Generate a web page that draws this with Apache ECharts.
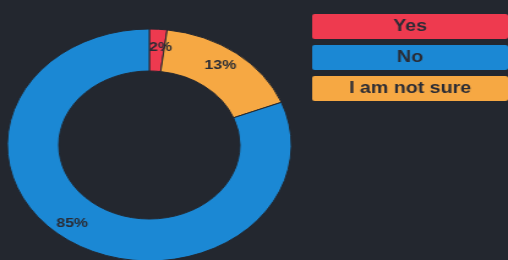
<!DOCTYPE html>
<html>
<head>
<meta charset="utf-8">
<script src="https://cdn.jsdelivr.net/npm/echarts@6/dist/echarts.min.js"></script>
<style>
    html, body { margin: 0; padding: 0; background: #23272f; overflow: hidden; }
    /* the picture is stretched sideways, so the chart is drawn narrow and scaled */
    #chart { width: 415px; height: 260px; transform: scaleX(1.224); transform-origin: 0 0; }
</style>
</head>
<body>
<div id="chart"></div>
<script>
// 数据
var answers = ['Yes', 'I am not sure', 'No'];
// slice shares as measured from the angles in the picture
var sliceShares = [2, 17, 81];
// the percentages printed on the slices
var percentLabels = ['2%', '13%', '85%'];
var legendOrder = ['Yes', 'No', 'I am not sure'];

var colors = ['#ee3a4f', '#f6a843', '#1b88d4'];
var richKeys = { 'Yes': 'y', 'No': 'n', 'I am not sure': 'u' };

var myChart = echarts.init(document.getElementById('chart'));

// 图例方块
var boxStyle = function (bg) {
    return {
        backgroundColor: bg,
        width: 160,
        height: 25,
        lineHeight: 25,
        align: 'center',
        borderRadius: 2,
        color: '#2a2c35',
        fontSize: 16,
        fontWeight: 'bold',
        fontFamily: 'Liberation Sans, Arial, sans-serif'
    };
};

// small nudges so the labels sit where the picture has them
var labelNudge = [[3, 0], [-2, -2], [-8, -3]];

var option = {
    backgroundColor: '#23272f',
    color: colors,
    legend: {
        orient: 'vertical',
        left: 250,
        top: 14,
        padding: 0,
        itemGap: 6,
        itemWidth: 0,
        itemHeight: 25,
        icon: 'none',
        selectedMode: false,
        data: legendOrder,
        formatter: function (name) {
            return '{' + richKeys[name] + '|' + name + '}';
        },
        textStyle: {
            padding: 0,
            rich: {
                y: boxStyle(colors[0]),
                n: boxStyle(colors[2]),
                u: boxStyle(colors[1])
            }
        }
    },
    series: [{
        type: 'pie',
        center: [122, 145],
        radius: [74, 116],
        startAngle: 90,
        clockwise: true,
        avoidLabelOverlap: false,
        itemStyle: {
            borderColor: '#23272f',
            borderWidth: 1
        },
        label: {
            position: 'inside',
            formatter: function (p) {
                return percentLabels[p.dataIndex];
            },
            color: '#2a2c35',
            fontSize: 13,
            fontWeight: 'bold',
            fontFamily: 'Liberation Sans, Arial, sans-serif'
        },
        labelLine: { show: false },
        labelLayout: function (params) {
            var n = labelNudge[params.dataIndex];
            return { dx: n[0], dy: n[1] };
        },
        data: answers.map(function (name, i) {
            return { name: name, value: sliceShares[i] };
        })
    }]
};

myChart.setOption(option);
</script>
</body>
</html>
